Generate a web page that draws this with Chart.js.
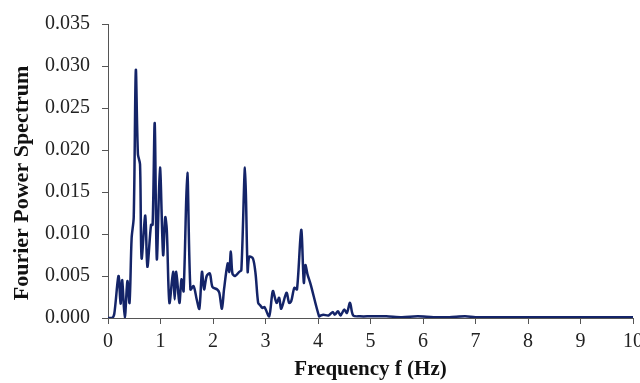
<!DOCTYPE html>
<html>
<head>
<meta charset="utf-8">
<script src="https://cdn.jsdelivr.net/npm/chart.js@4.4.1/dist/chart.umd.min.js"></script>
<style>
  html, body { margin: 0; padding: 0; background: #fff; overflow: hidden; }
  #wrap { width: 640px; height: 383px; overflow: hidden; }
</style>
</head>
<body>
<div id="wrap"><canvas id="c" width="649" height="383"></canvas></div>
<script>
// frequency (Hz) and power values
var freqs = [0.00, 0.08, 0.12, 0.20, 0.24, 0.27, 0.32, 0.37, 0.41, 0.45, 0.49, 0.53, 0.57, 0.61, 0.64,
  0.71, 0.75, 0.82, 0.85, 0.89, 0.93, 0.99, 1.05, 1.09, 1.12, 1.17, 1.24, 1.27, 1.30, 1.36, 1.40, 1.44,
  1.51, 1.57, 1.63, 1.69, 1.74, 1.79, 1.83, 1.88, 1.94, 1.99, 2.08, 2.12, 2.17, 2.21, 2.28, 2.31, 2.34,
  2.37, 2.42, 2.50, 2.54, 2.61, 2.66, 2.69, 2.76, 2.81, 2.86, 2.90, 2.94, 2.98, 3.07, 3.14, 3.21, 3.26,
  3.30, 3.40, 3.45, 3.49, 3.55, 3.60, 3.68, 3.73, 3.76, 3.80, 3.86, 4.02, 4.05, 4.10, 4.20, 4.28, 4.32,
  4.38, 4.43, 4.50, 4.55, 4.61, 4.67, 4.80, 5.00, 5.30, 5.60, 5.90, 6.20, 6.50, 6.80, 7.00, 7.50, 8.00,
  8.50, 9.00, 9.50, 10.00];
var power = [0, 0, 0.0005, 0.0050, 0.0017, 0.0045, 0.0000, 0.0044, 0.0018, 0.0095, 0.0120, 0.0295, 0.0195, 0.0183, 0.0071,
  0.0122, 0.0061, 0.0111, 0.0111, 0.0232, 0.0070, 0.0179, 0.0075, 0.0120, 0.0105, 0.0018, 0.0055, 0.0022, 0.0055, 0.0018, 0.0046, 0.0032,
  0.0173, 0.0034, 0.0038, 0.0022, 0.0011, 0.0055, 0.0034, 0.0050, 0.0053, 0.0037, 0.0034, 0.0030, 0.0011, 0.0034, 0.0065, 0.0055, 0.0079,
  0.0053, 0.0050, 0.0055, 0.0057, 0.0179, 0.0055, 0.0073, 0.0071, 0.0053, 0.0018, 0.0015, 0.0012, 0.0013, 0.0002, 0.0032, 0.0018, 0.0024,
  0.0011, 0.0030, 0.0018, 0.0020, 0.0036, 0.0034, 0.0105, 0.0042, 0.0063, 0.0052, 0.0040, 0.0002, 0.0003, 0.0004, 0.0003, 0.0007, 0.0004,
  0.0008, 0.0003, 0.0010, 0.0006, 0.0018, 0.0003, 0.0002, 0.0002, 0.0002, 0.0001, 0.0002, 0.0001, 0.0001, 0.0002, 0.0001, 0.0001, 0.0001,
  0.0001, 0.0001, 0.0001, 0.0001];

var xTitle = "Frequency f (Hz)";
var yTitle = "Fourier Power Spectrum";

var pts = [];
for (var i = 0; i < freqs.length; i++) {
  pts.push({ x: freqs[i], y: power[i] });
}

var axisColor = '#555555';
var serif = "'Liberation Serif', 'Times New Roman', serif";

// y title drawn by hand, it sits a bit below the middle of the axis in the original
var yTitlePlugin = {
  id: 'yTitle',
  afterDraw: function (chart) {
    var c = chart.ctx;
    var area = chart.chartArea;
    c.save();
    c.translate(22, (area.top + area.bottom) / 2 + 12);
    c.rotate(-Math.PI / 2);
    c.font = "bold 22px " + serif;
    c.fillStyle = '#111';
    c.textAlign = 'center';
    c.textBaseline = 'middle';
    c.fillText(yTitle, 0, 0);
    c.restore();
  }
};

var ctx = document.getElementById('c').getContext('2d');
var chart = new Chart(ctx, {
  type: 'line',
  data: {
    datasets: [{
      data: pts,
      borderColor: 'rgb(20, 36, 104)',
      borderWidth: 2.5,
      pointRadius: 0,
      fill: false,
      tension: 0.3
    }]
  },
  options: {
    responsive: false,
    animation: false,
    layout: { autoPadding: false, padding: { top: 7, right: 1, left: 0, bottom: 0 } },
    plugins: { legend: { display: false }, tooltip: { enabled: false } },
    scales: {
      x: {
        type: 'linear',
        min: 0,
        max: 10,
        ticks: { stepSize: 1, color: '#222', font: { family: serif, size: 20 }, padding: 6, maxRotation: 0 },
        grid: { drawOnChartArea: false, tickLength: 6, color: axisColor },
        border: { color: axisColor, width: 1 },
        title: { display: true, text: xTitle, color: '#111', font: { family: serif, size: 21, weight: 'bold' }, padding: { top: 0, bottom: 1 } },
        afterFit: function (s) { s.height = 65; }
      },
      y: {
        min: 0,
        max: 0.035,
        ticks: { stepSize: 0.005, color: '#222', font: { family: serif, size: 20 }, padding: 12,
          callback: function (v) { return v.toFixed(3); } },
        grid: { drawOnChartArea: false, tickLength: 6, color: axisColor },
        border: { color: axisColor, width: 1 },
        afterFit: function (s) { s.width = 108; }
      }
    }
  },
  plugins: [yTitlePlugin]
});
</script>
</body>
</html>
